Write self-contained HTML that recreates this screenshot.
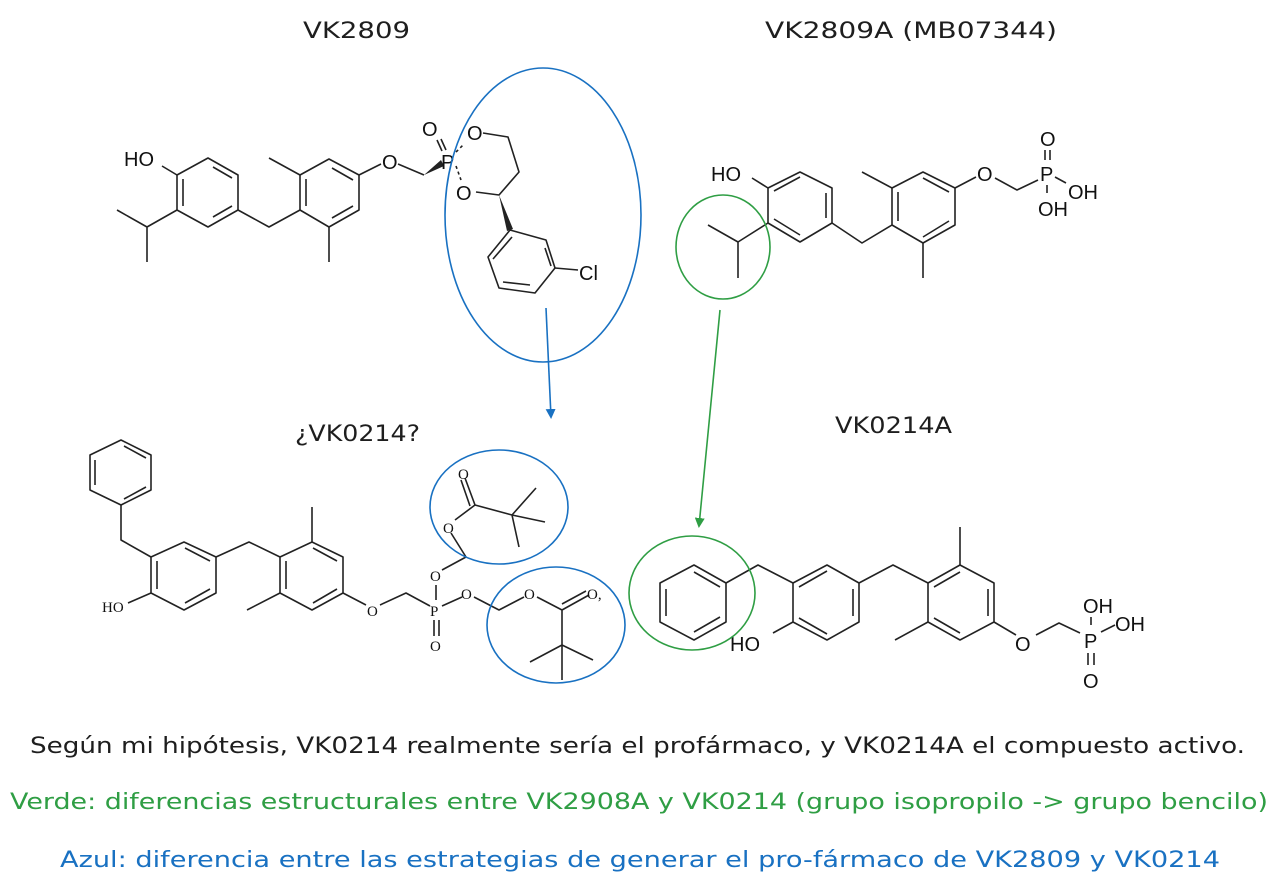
<!DOCTYPE html>
<html><head><meta charset="utf-8"><style>
html,body{margin:0;padding:0;background:#fff}
svg{display:block}
.b{fill:none;stroke:#222;stroke-width:1.6;stroke-linejoin:round}
.t{font-family:"Liberation Sans",sans-serif;font-size:20px;fill:#111}
.s{font-family:"Liberation Serif",serif;font-size:15px;fill:#111}
.h{font-family:"DejaVu Sans","Liberation Sans",sans-serif;fill:#1e1e1e}
</style></head><body>
<svg width="1278" height="889" viewBox="0 0 1278 889" xmlns="http://www.w3.org/2000/svg">
<defs>
<marker id="ab" markerWidth="10" markerHeight="10" refX="8" refY="5" orient="auto" markerUnits="userSpaceOnUse"><path d="M0,0 L10,5 L0,10 z" fill="#1971c2"/></marker>
<marker id="ag" markerWidth="10" markerHeight="10" refX="8" refY="5" orient="auto" markerUnits="userSpaceOnUse"><path d="M0,0 L10,5 L0,10 z" fill="#2f9e44"/></marker>
</defs>

<!-- titles -->
<text class="h" x="303" y="38" font-size="22" textLength="107" lengthAdjust="spacingAndGlyphs">VK2809</text>
<text class="h" x="765" y="38" font-size="22" textLength="292" lengthAdjust="spacingAndGlyphs">VK2809A (MB07344)</text>
<text class="h" x="295" y="441" font-size="22" textLength="125" lengthAdjust="spacingAndGlyphs">¿VK0214?</text>
<text class="h" x="835" y="433" font-size="22" textLength="117" lengthAdjust="spacingAndGlyphs">VK0214A</text>

<!-- Structure 1: VK2809 -->
<polygon class="b" points="208,158 238,175 238,210 208,227 177,210 177,175"/>
<path class="b" d="M213,167 L232,178 M232,206 L213,217 M183,206 L183,179"/>
<path class="b" d="M177,175 L162,166 M177,210 L147,227 L117,210 M147,227 L147,262 M238,210 L269,227 L300,210"/>
<text class="t" x="124" y="166">HO</text>
<polygon class="b" points="300,175 329,159 359,175 359,210 329,227 300,210"/>
<path class="b" d="M306,179 L306,206 M332,168 L353,180 M353,206 L332,218"/>
<path class="b" d="M300,175 L269,158 M329,227 L329,262 M359,175 L381,164 M398,164 L424,175"/>
<text class="t" x="382" y="169">O</text>
<polygon points="424,175 441,160 444,166" fill="#222"/>
<text class="t" x="441" y="169">P</text>
<text class="t" x="422" y="136">O</text>
<path class="b" d="M437,140 L442,151 M441,139 L446,150"/>
<text class="t" x="467" y="140">O</text>
<text class="t" x="456" y="200">O</text>
<path class="b" d="M456,152 L463,145 M456,166 L461,180" stroke-dasharray="3,3"/>
<path class="b" d="M483,133 L508,137 L519,172 L499,195 L476,192"/>
<polygon points="499,195 507,231 513,229" fill="#222"/>
<polygon class="b" points="510,230 546,240 555,268 535,293 499,288 488,257"/>
<path class="b" d="M545,248 L551,266 M530,285 L503,282 M493,259 L512,237"/>
<path class="b" d="M555,268 L578,270"/>
<text class="t" x="579" y="280">Cl</text>
<ellipse cx="543" cy="215" rx="98" ry="147" fill="none" stroke="#1971c2" stroke-width="1.6"/>
<line x1="546" y1="308" x2="551" y2="417" stroke="#1971c2" stroke-width="1.6" marker-end="url(#ab)"/>

<!-- Structure 2: VK2809A -->
<polygon class="b" points="768,188 800,172 832,188 832,223 800,242 768,223"/>
<path class="b" d="M774,191 L800,177 M826,193 L826,218 M774,219 L800,235"/>
<path class="b" d="M768,188 L752,178 M768,223 L738,242 L708,225 M738,242 L738,278 M832,223 L862,243 L892,225"/>
<text class="t" x="711" y="181">HO</text>
<polygon class="b" points="892,188 923,172 955,188 955,225 923,243 892,225"/>
<path class="b" d="M898,192 L898,221 M923,178 L949,192 M949,221 L923,237"/>
<path class="b" d="M892,188 L862,172 M923,243 L923,278 M955,188 L976,177 M995,178 L1017,190 L1038,180"/>
<text class="t" x="977" y="181">O</text>
<text class="t" x="1040" y="181">P</text>
<text class="t" x="1040" y="146">O</text>
<path class="b" d="M1045,150 L1045,160 M1050,150 L1050,160 M1055,177 L1066,183 M1047,185 L1047,193"/>
<text class="t" x="1068" y="199">OH</text>
<text class="t" x="1038" y="216">OH</text>
<ellipse cx="723" cy="247" rx="47" ry="52" fill="none" stroke="#2f9e44" stroke-width="1.6"/>
<line x1="720" y1="310" x2="699" y2="526" stroke="#2f9e44" stroke-width="1.6" marker-end="url(#ag)"/>

<!-- Structure 3: ¿VK0214? -->
<polygon class="b" points="121,440 151,455 151,490 121,505 90,490 90,455"/>
<path class="b" d="M124,446 L146,458 M146,487 L124,499 M95,460 L95,485"/>
<path class="b" d="M121,505 L121,540 L151,557"/>
<polygon class="b" points="151,557 184,542 216,557 216,593 184,610 151,593"/>
<path class="b" d="M157,561 L157,589 M185,548 L210,561 M210,589 L185,603"/>
<path class="b" d="M151,593 L128,603 M216,557 L249,542 L280,557"/>
<text class="s" x="102" y="612">HO</text>
<polygon class="b" points="280,557 312,542 343,557 343,593 312,610 280,593"/>
<path class="b" d="M286,561 L286,589 M313,548 L337,561 M337,589 L313,603"/>
<path class="b" d="M312,542 L312,507 M280,593 L247,610 M343,593 L366,605 M380,605 L406,593 L430,606"/>
<text class="s" x="367" y="616">O</text>
<text class="s" x="430" y="616">P</text>
<text class="s" x="430" y="651">O</text>
<path class="b" d="M434,620 L434,636 M439,620 L439,636 M436,600 L436,585"/>
<text class="s" x="430" y="581">O</text>
<path class="b" d="M442,570 L466,557 L451,533"/>
<text class="s" x="443" y="533">O</text>
<path class="b" d="M455,520 L475,505 L465,478 M470,506 L461,480 M475,505 L512,515 L536,488 M512,515 L545,522 M512,515 L519,547"/>
<text class="s" x="458" y="479">O</text>
<path class="b" d="M442,606 L462,597"/>
<text class="s" x="461" y="599">O</text>
<path class="b" d="M474,597 L499,610 L524,597"/>
<text class="s" x="524" y="599">O</text>
<path class="b" d="M537,597 L562,610 L589,595 M562,604 L586,591 M562,610 L562,645 L530,662 M562,645 L593,660 M562,645 L562,680"/>
<text class="s" x="587" y="599">O,</text>
<ellipse cx="499" cy="507" rx="69" ry="57" fill="none" stroke="#1971c2" stroke-width="1.6"/>
<ellipse cx="556" cy="625" rx="69" ry="58" fill="none" stroke="#1971c2" stroke-width="1.6"/>

<!-- Structure 4: VK0214A -->
<polygon class="b" points="694,565 726,583 726,622 694,640 660,622 660,583"/>
<path class="b" d="M694,572 L720,587 M720,617 L694,632 M666,589 L666,616"/>
<path class="b" d="M726,583 L758,565 L793,583"/>
<polygon class="b" points="793,583 827,565 859,583 859,622 827,640 793,622"/>
<path class="b" d="M799,587 L827,571 M853,589 L853,616 M799,618 L827,634"/>
<path class="b" d="M793,622 L773,633 M859,583 L893,565 L928,583"/>
<text class="t" x="730" y="651">HO</text>
<polygon class="b" points="928,583 960,565 994,583 994,622 960,640 928,622"/>
<path class="b" d="M934,587 L960,572 M988,589 L988,616 M934,618 L960,633"/>
<path class="b" d="M960,565 L960,527 M928,622 L895,640 M994,622 L1016,635 M1036,635 L1059,623 L1080,633"/>
<text class="t" x="1015" y="651">O</text>
<text class="t" x="1084" y="648">P</text>
<text class="t" x="1083" y="613">OH</text>
<path class="b" d="M1091,617 L1091,625 M1101,632 L1115,625 M1088,653 L1088,665 M1094,653 L1094,665"/>
<text class="t" x="1115" y="631">OH</text>
<text class="t" x="1083" y="688">O</text>
<ellipse cx="692" cy="593" rx="63" ry="57" fill="none" stroke="#2f9e44" stroke-width="1.6"/>

<!-- bottom text -->
<text class="h" x="30" y="753" font-size="22" fill="#1e1e1e" textLength="1215" lengthAdjust="spacingAndGlyphs">Según mi hipótesis, VK0214 realmente sería el profármaco, y VK0214A el compuesto activo.</text>
<text class="h" x="10" y="809" font-size="22" style="fill:#2f9e44" textLength="1258" lengthAdjust="spacingAndGlyphs">Verde: diferencias estructurales entre VK2908A y VK0214 (grupo isopropilo -&gt; grupo bencilo)</text>
<text class="h" x="60" y="867" font-size="22" style="fill:#1971c2" textLength="1160" lengthAdjust="spacingAndGlyphs">Azul: diferencia entre las estrategias de generar el pro-fármaco de VK2809 y VK0214</text>
</svg>
</body></html>
